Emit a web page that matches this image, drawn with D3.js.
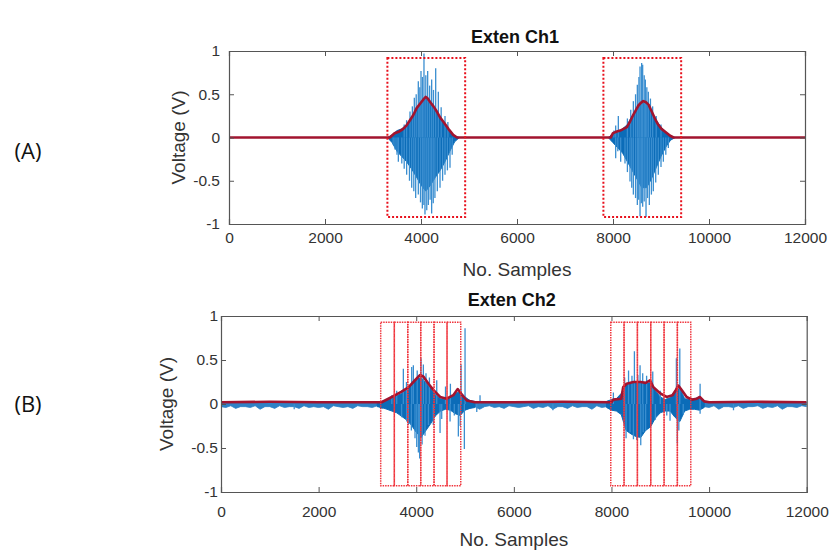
<!DOCTYPE html>
<html>
<head>
<meta charset="utf-8">
<script src="https://cdn.jsdelivr.net/npm/d3@7"></script>
<style>
  body { margin: 0; background: #fff; }
  text { font-family: "Liberation Sans", Arial, sans-serif; }
</style>
</head>
<body>
<div id="chart"></div>
<script>
// ---- data ----
var xTicks = [0, 2000, 4000, 6000, 8000, 10000, 12000];
var yTicks = [-1, -0.5, 0, 0.5, 1];

// channel 1: dense burst core (min/max per 100 samples)
var ch1Core1Start = 3300;
var ch1Core1Hi = [0, 0.03, 0.08, 0.10, 0.15, 0.22, 0.30, 0.40, 0.45, 0.38, 0.30, 0.22, 0.15, 0.08, 0.02, 0];
var ch1Core1Lo = [0, -0.06, -0.16, -0.22, -0.28, -0.36, -0.45, -0.55, -0.62, -0.55, -0.46, -0.38, -0.28, -0.16, -0.05, 0];
var ch1Core2Start = 7900;
var ch1Core2Hi = [0, 0.04, 0.06, 0.10, 0.15, 0.25, 0.33, 0.40, 0.38, 0.30, 0.20, 0.12, 0.06, 0.02, 0];
var ch1Core2Lo = [0, -0.06, -0.12, -0.18, -0.28, -0.38, -0.48, -0.58, -0.58, -0.48, -0.35, -0.22, -0.11, -0.03, 0];

// channel 1: single spikes [sample, value]
var ch1Spikes = [
  [3650, 0.15], [3700, 0.20], [3771, 0.30], [3820, 0.36], [3861, 0.46], [3900, 0.50], [3944, 0.65],
  [3975, 0.58], [4000, 0.77], [4030, 0.70], [4062, 0.97], [4100, 0.72], [4139, 0.77], [4180, 0.60],
  [4222, 0.67], [4260, 0.55], [4306, 0.80], [4361, 0.53], [4420, 0.35], [4500, 0.25], [4560, 0.18],
  [3420, -0.08], [3458, -0.14], [3500, -0.20], [3528, -0.28], [3600, -0.30], [3650, -0.36], [3701, -0.43],
  [3760, -0.50], [3806, -0.58], [3850, -0.62], [3889, -0.70], [3944, -0.66], [3990, -0.75], [4028, -0.82],
  [4060, -0.78], [4083, -0.89], [4120, -0.84], [4153, -0.78], [4190, -0.72], [4222, -0.88], [4255, -0.76],
  [4290, -0.70], [4340, -0.62], [4396, -0.58], [4450, -0.50], [4500, -0.43], [4550, -0.38], [4604, -0.35],
  [4650, -0.20],
  [8020, 0.08], [8056, 0.14], [8111, 0.25], [8300, 0.22], [8370, 0.32], [8424, 0.42], [8470, 0.50],
  [8507, 0.61], [8540, 0.70], [8563, 0.82], [8597, 0.86], [8618, 0.84], [8650, 0.72], [8674, 0.67],
  [8705, 0.58], [8736, 0.53], [8780, 0.45], [8826, 0.36], [8900, 0.25], [9000, 0.15],
  [8056, -0.24], [8100, -0.16], [8160, -0.28], [8250, -0.30], [8300, -0.40], [8354, -0.51], [8390, -0.58],
  [8424, -0.66], [8470, -0.70], [8507, -0.78], [8535, -0.72], [8563, -0.91], [8590, -0.76], [8618, -0.80],
  [8650, -0.74], [8688, -0.92], [8720, -0.70], [8757, -0.78], [8800, -0.66], [8840, -0.62], [8890, -0.52],
  [8944, -0.43], [9000, -0.34], [9049, -0.28], [9100, -0.20], [9153, -0.12]
];

// channel 1: red envelope [sample, value]
var ch1Env = [
  [0, 0], [3350, 0], [3450, 0.05], [3550, 0.07], [3630, 0.10], [3700, 0.14], [3770, 0.20], [3840, 0.26],
  [3910, 0.34], [3980, 0.39], [4050, 0.44], [4100, 0.47], [4140, 0.45], [4190, 0.41], [4260, 0.36],
  [4330, 0.30], [4400, 0.23], [4470, 0.18], [4570, 0.10], [4670, 0.03], [4750, 0],
  [7950, 0], [8000, 0.05], [8080, 0.07], [8150, 0.08], [8220, 0.10], [8290, 0.12], [8360, 0.19],
  [8420, 0.26], [8480, 0.32], [8530, 0.37], [8580, 0.40], [8630, 0.42], [8680, 0.41], [8740, 0.38],
  [8790, 0.32], [8840, 0.26], [8890, 0.20], [8940, 0.15], [9010, 0.10], [9080, 0.07], [9190, 0.02],
  [9260, 0], [12000, 0]
];

// channel 1: dotted selection boxes [from, to]
var ch1Boxes = [[3300, 4920], [7800, 9420]];

// channel 2: background noise, lower edge of the trace per 100 samples
var ch2NoiseTop = 0.02;
var ch2NoiseLow = [
  -0.03, -0.04, -0.02, -0.05, -0.03, -0.03, -0.04, -0.02, -0.06, -0.03,
  -0.03, -0.05, -0.02, -0.04, -0.03, -0.03, -0.05, -0.02, -0.04, -0.03,
  -0.04, -0.03, -0.06, -0.02, -0.03, -0.04, -0.03, -0.05, -0.02, -0.03,
  -0.03, -0.04, -0.02, -0.05, -0.03, -0.04, -0.03, -0.02, -0.06, -0.03,
  -0.04, -0.03, -0.02, -0.05, -0.03, -0.04, -0.02, -0.03, -0.05, -0.03,
  -0.02, -0.04, -0.03, -0.06, -0.03, -0.02, -0.04, -0.03, -0.05, -0.02,
  -0.03, -0.04, -0.03, -0.02, -0.05, -0.03, -0.04, -0.02, -0.06, -0.03,
  -0.03, -0.05, -0.02, -0.04, -0.03, -0.03, -0.06, -0.02, -0.04, -0.03,
  -0.04, -0.03, -0.05, -0.02, -0.03, -0.04, -0.03, -0.06, -0.02, -0.03,
  -0.03, -0.05, -0.02, -0.04, -0.03, -0.03, -0.05, -0.02, -0.04, -0.03,
  -0.04, -0.02, -0.06, -0.03, -0.03, -0.04, -0.02, -0.05, -0.03, -0.03,
  -0.02, -0.05, -0.03, -0.04, -0.02, -0.06, -0.03, -0.03, -0.04, -0.02,
  -0.03
];

var ch2Core1Start = 3200;
var ch2Core1Hi = [0.02, 0.03, 0.05, 0.07, 0.09, 0.12, 0.16, 0.22, 0.28, 0.30, 0.24, 0.17, 0.10, 0.06, 0.05, 0.07, 0.12, 0.14, 0.08, 0.04, 0.03];
var ch2Core1Lo = [-0.03, -0.04, -0.06, -0.08, -0.10, -0.14, -0.18, -0.24, -0.32, -0.38, -0.30, -0.22, -0.13, -0.08, -0.06, -0.07, -0.11, -0.13, -0.07, -0.05, -0.04];
var ch2Core2Start = 7900;
var ch2Core2Hi = [0.03, 0.05, 0.06, 0.12, 0.22, 0.24, 0.25, 0.25, 0.24, 0.24, 0.15, 0.08, 0.05, 0.07, 0.15, 0.18, 0.06, 0.05, 0.06, 0.08, 0.04];
var ch2Core2Lo = [-0.04, -0.07, -0.08, -0.12, -0.30, -0.34, -0.37, -0.38, -0.30, -0.26, -0.16, -0.10, -0.08, -0.08, -0.15, -0.20, -0.08, -0.06, -0.06, -0.07, -0.04];

var ch2Spikes = [
  [3500, 0.10], [3600, 0.15], [3736, 0.40], [3800, 0.25], [3907, 0.42], [3941, 0.44], [4020, 0.38],
  [4098, 0.52], [4146, 0.45], [4200, 0.35], [4270, 0.30], [4420, 0.27], [4600, 0.20], [4700, 0.23],
  [4918, 0.45], [5000, 0.86], [5307, 0.10],
  [3700, -0.15], [3805, -0.20], [3839, -0.24], [3900, -0.30], [3975, -0.39], [4010, -0.49], [4044, -0.55],
  [4070, -0.62], [4120, -0.46], [4180, -0.36], [4250, -0.24], [4350, -0.24], [4488, -0.33], [4522, -0.17],
  [4693, -0.20], [4780, -0.13], [4863, -0.37], [4900, -0.25], [4986, -0.51], [5240, -0.09],
  [8039, 0.13], [8270, 0.30], [8350, 0.38], [8420, 0.32], [8470, 0.60], [8540, 0.33], [8586, 0.44],
  [8640, 0.35], [8720, 0.32], [8846, 0.37], [9000, 0.15], [9330, 0.52], [9400, 0.63], [9816, 0.23],
  [8299, -0.39], [8380, -0.32], [8450, -0.40], [8518, -0.41], [8600, -0.47], [8650, -0.32], [8700, -0.30],
  [8800, -0.22], [8900, -0.18], [9133, -0.13], [9200, -0.19], [9350, -0.45], [9380, -0.30], [9470, -0.12],
  [9816, -0.11], [10500, -0.07], [1500, -0.06], [6800, -0.07]
];

var ch2Env = [
  [0, 0.02], [1000, 0.025], [2000, 0.02], [3000, 0.02], [3290, 0.02], [3430, 0.06], [3570, 0.10],
  [3700, 0.14], [3840, 0.19], [3975, 0.27], [4080, 0.33], [4150, 0.31], [4250, 0.23], [4350, 0.16],
  [4490, 0.08], [4625, 0.06], [4760, 0.10], [4850, 0.17], [4930, 0.11], [5035, 0.04], [5200, 0.02],
  [6000, 0.02], [7000, 0.025], [8000, 0.02], [8040, 0.05], [8200, 0.06], [8240, 0.19], [8310, 0.23],
  [8450, 0.25], [8600, 0.25], [8700, 0.24], [8790, 0.27], [8860, 0.19], [9000, 0.12], [9130, 0.08],
  [9250, 0.10], [9320, 0.16], [9370, 0.21], [9450, 0.15], [9540, 0.08], [9650, 0.05], [9750, 0.06],
  [9810, 0.08], [9900, 0.03], [10000, 0.02], [11000, 0.025], [12000, 0.02]
];

var ch2Edges1 = [3272, 3551, 3826, 4092, 4365, 4631, 4912];
var ch2Edges2 = [7986, 8258, 8531, 8805, 9078, 9350, 9625];

// ---- drawing ----
var width = 831, height = 550;
var svg = d3.select("#chart").append("svg")
  .attr("width", width)
  .attr("height", height)
  .style("background", "#fff");

function toPoints(start, hi, lo) {
  return hi.map(function(h, i) { return { s: start + i * 100, hi: h, lo: lo[i] }; });
}

function drawPanel(p) {
  var x = d3.scaleLinear().domain([0, 12000]).range([p.left, p.right]);
  var y = d3.scaleLinear().domain([-1, 1]).range([p.bottom, p.top]);
  var g = svg.append("g");

  var clip = "clip" + p.id;
  g.append("clipPath").attr("id", clip).append("rect")
    .attr("x", p.left).attr("y", p.top)
    .attr("width", p.right - p.left).attr("height", p.bottom - p.top);
  var plot = g.append("g").attr("clip-path", "url(#" + clip + ")");

  var area = d3.area()
    .x(function(d) { return x(d.s); })
    .y0(function(d) { return y(d.lo); })
    .y1(function(d) { return y(d.hi); });

  // background noise band
  if (p.noise) {
    plot.append("path")
      .datum(p.noise)
      .attr("fill", "#2f82c6")
      .attr("stroke", "#2f82c6")
      .attr("stroke-width", 0.8)
      .attr("d", area);
  }

  // dense cores
  p.cores.forEach(function(c) {
    plot.append("path")
      .datum(c)
      .attr("fill", "#0b6cb8")
      .attr("stroke", "#0b6cb8")
      .attr("stroke-width", 1)
      .attr("d", area);
  });

  // spikes
  plot.selectAll("line.spike")
    .data(p.spikes)
    .enter()
    .append("line")
    .attr("class", "spike")
    .attr("x1", function(d) { return x(d[0]); })
    .attr("x2", function(d) { return x(d[0]); })
    .attr("y1", y(0))
    .attr("y2", function(d) { return y(d[1]); })
    .attr("stroke", "#3a8ed0")
    .attr("stroke-width", 1.3);

  // red envelope
  plot.append("path")
    .datum(p.env)
    .attr("fill", "none")
    .attr("stroke", "#a2142f")
    .attr("stroke-width", 2.6)
    .attr("stroke-linejoin", "round")
    .attr("d", d3.line().x(function(d) { return x(d[0]); }).y(function(d) { return y(d[1]); }));

  // dotted boxes
  g.selectAll("rect.box")
    .data(p.boxes)
    .enter()
    .append("rect")
    .attr("class", "box")
    .attr("x", function(d) { return x(d[0]); })
    .attr("y", y(p.boxV))
    .attr("width", function(d) { return x(d[1]) - x(d[0]); })
    .attr("height", y(-p.boxV) - y(p.boxV))
    .attr("fill", "none")
    .attr("stroke", p.boxColor)
    .attr("stroke-width", p.boxWidth)
    .attr("stroke-dasharray", p.boxDash);

  // axes (ticks inward, box all round)
  var axColor = "#555";
  var bottomAxis = g.append("g").attr("transform", "translate(0," + p.bottom + ")")
    .call(d3.axisBottom(x).tickValues(xTicks).tickSize(-5).tickPadding(p.xPad).tickFormat(d3.format("d")));
  var topAxis = g.append("g").attr("transform", "translate(0," + p.top + ")")
    .call(d3.axisTop(x).tickValues(xTicks).tickSize(-5).tickFormat(""));
  var leftAxis = g.append("g").attr("transform", "translate(" + p.left + ",0)")
    .call(d3.axisLeft(y).tickValues(yTicks).tickSize(-5).tickPadding(p.yPad).tickFormat(function(d) { return String(d); }));
  var rightAxis = g.append("g").attr("transform", "translate(" + p.right + ",0)")
    .call(d3.axisRight(y).tickValues(yTicks).tickSize(-5).tickFormat(""));
  [bottomAxis, topAxis, leftAxis, rightAxis].forEach(function(a) {
    a.select(".domain").attr("stroke", axColor).attr("stroke-width", 1.2);
    a.selectAll(".tick line").attr("stroke", axColor);
    a.selectAll("text").attr("fill", "#333").style("font-size", "15.5px").style("font-family", "Liberation Sans, Arial, sans-serif");
  });
  topAxis.selectAll(".tick").filter(function(d) { return d === 0 || d === 12000; }).remove();
  bottomAxis.selectAll(".tick line").filter(function(d) { return d === 0 || d === 12000; }).remove();
  leftAxis.selectAll(".tick line").filter(function(d) { return d === -1 || d === 1; }).remove();
  rightAxis.selectAll(".tick").filter(function(d) { return d === -1 || d === 1; }).remove();

  // labels
  svg.append("text")
    .attr("x", (p.left + p.right) / 2 - 2)
    .attr("y", p.titleY)
    .attr("text-anchor", "middle")
    .attr("font-weight", "bold")
    .attr("font-size", "18px")
    .attr("fill", "#111")
    .text(p.title);

  svg.append("text")
    .attr("x", (p.left + p.right) / 2)
    .attr("y", p.xLabelY)
    .attr("text-anchor", "middle")
    .attr("font-size", "19px")
    .attr("fill", "#333")
    .text("No. Samples");

  svg.append("text")
    .attr("transform", "translate(" + p.yLabelX + "," + ((p.top + p.bottom) / 2) + ") rotate(-90)")
    .attr("text-anchor", "middle")
    .attr("font-size", "19px")
    .attr("fill", "#333")
    .text("Voltage (V)");

  svg.append("text")
    .attr("x", 28)
    .attr("y", p.tagY)
    .attr("text-anchor", "middle")
    .attr("font-size", "22px")
    .style("font-family", "Open Sans, sans-serif")
    .attr("fill", "#111")
    .text(p.tag);
}

function edgesToBoxes(edges) {
  var out = [];
  for (var i = 0; i < edges.length - 1; i++) out.push([edges[i], edges[i + 1]]);
  return out;
}

var ch2Noise = ch2NoiseLow.map(function(v, i) { return { s: i * 100, hi: ch2NoiseTop, lo: v }; });

drawPanel({
  id: 1, left: 229, right: 805, top: 51, bottom: 224,
  noise: null,
  cores: [toPoints(ch1Core1Start, ch1Core1Hi, ch1Core1Lo), toPoints(ch1Core2Start, ch1Core2Hi, ch1Core2Lo)],
  spikes: ch1Spikes, env: ch1Env,
  boxes: ch1Boxes, boxV: 0.92, boxColor: "#e8101c", boxWidth: 2, boxDash: "2,2",
  xPad: 8, yPad: 9,
  title: "Exten Ch1", titleY: 43, xLabelY: 276, yLabelX: 185, tag: "(A)", tagY: 159
});

drawPanel({
  id: 2, left: 221, right: 806.7, top: 316, bottom: 492,
  noise: ch2Noise,
  cores: [toPoints(ch2Core1Start, ch2Core1Hi, ch2Core1Lo), toPoints(ch2Core2Start, ch2Core2Hi, ch2Core2Lo)],
  spikes: ch2Spikes, env: ch2Env,
  boxes: edgesToBoxes(ch2Edges1).concat(edgesToBoxes(ch2Edges2)),
  boxV: 0.93, boxColor: "#f0353d", boxWidth: 1.5, boxDash: "1.5,1",
  xPad: 14, yPad: 3,
  title: "Exten Ch2", titleY: 306, xLabelY: 546, yLabelX: 173, tag: "(B)", tagY: 412
});
</script>
</body>
</html>
